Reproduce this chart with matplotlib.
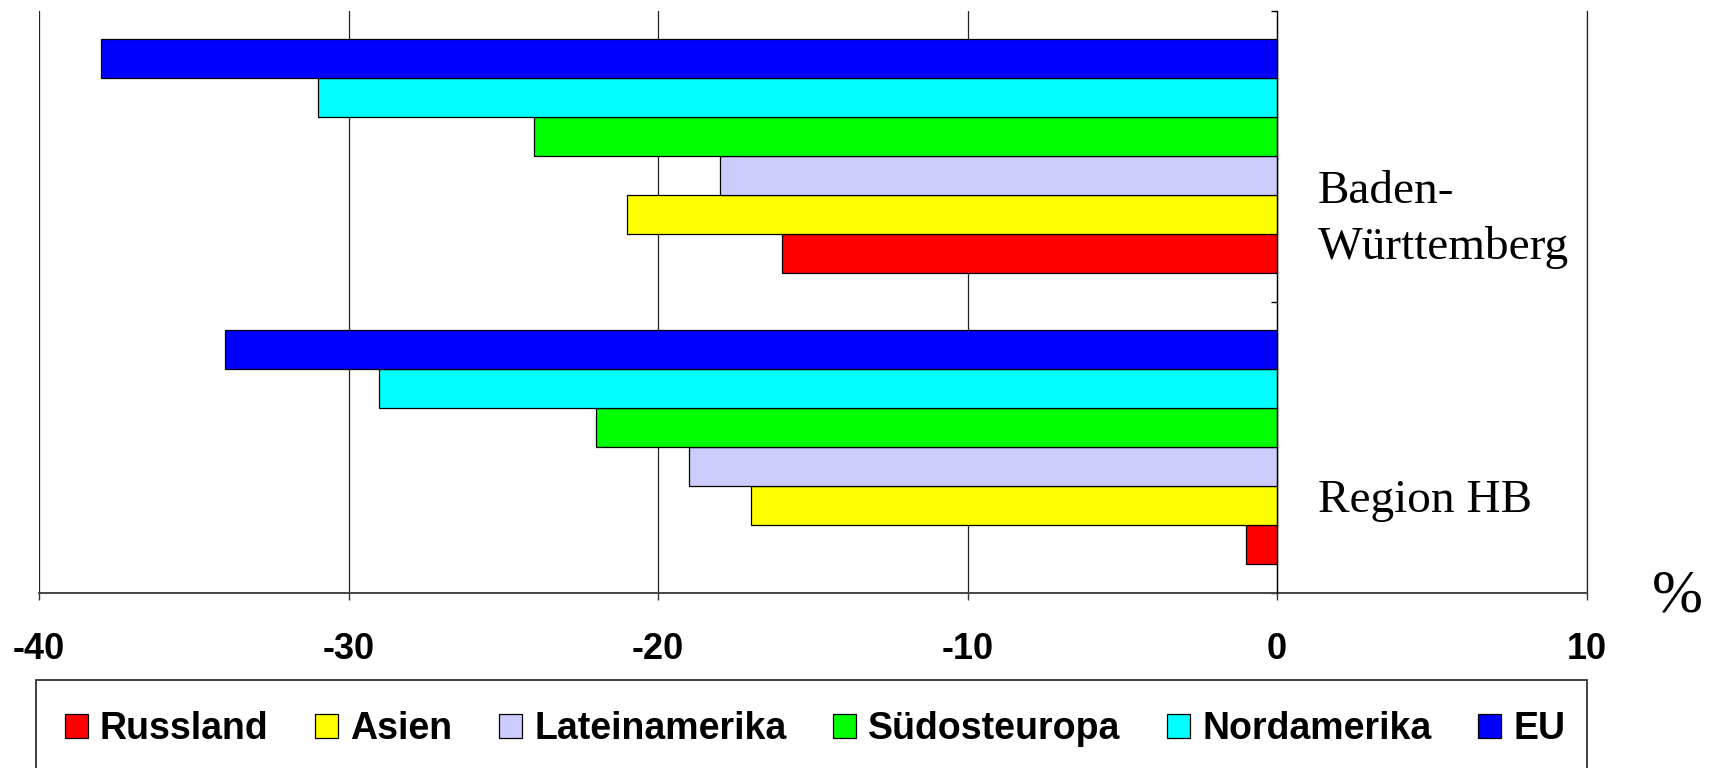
"""
Horizontal grouped bars: change in % by region of origin, BW vs Region HB.
"""

import matplotlib
matplotlib.use('Agg')
import matplotlib.pyplot as plt
from matplotlib.patches import Rectangle

# ── Data ────────────────────────────────────────────────────────────────────
categories = ['Region HB', 'Baden-\nWürttemberg']
series = ['Russland', 'Asien', 'Lateinamerika', 'Südosteuropa', 'Nordamerika', 'EU']
colors = ['#FF0000', '#FFFF00', '#CCCCFF', '#00FF00', '#00FFFF', '#0000FF']

# values per series: [Region HB, Baden-Württemberg]
russland      = [-1, -16]
asien         = [-17, -21]
lateinamerika = [-19, -18]
suedosteuropa = [-22, -24]
nordamerika   = [-29, -31]
eu            = [-34, -38]
values = [russland, asien, lateinamerika, suedosteuropa, nordamerika, eu]

xticks = [-40, -30, -20, -10, 0, 10]

SANS = 'Liberation Sans'
SERIF = 'Liberation Serif'

# ── Figure ──────────────────────────────────────────────────────────────────
fig = plt.figure(figsize=(17.12, 7.68), dpi=100)
ax = fig.add_axes([0.0228, 0.2279, 0.9039, 0.7578])

h = 0.134
for i, (name, vals, c) in enumerate(zip(series, values, colors)):
    ys = [k + (i - 2.5) * h for k in range(len(categories))]
    ax.barh(ys, vals, height=h, color=c, edgecolor='black', linewidth=0.9,
            label=name, zorder=3)

ax.set_xlim(-40, 10)
ax.set_ylim(-0.5, 1.5)

ax.set_xticks(xticks)
ax.set_xticklabels([str(t) for t in xticks], fontfamily=SANS,
                   fontweight='bold', fontsize=26)
ax.tick_params(axis='x', direction='out', length=5, width=1, pad=23,
               color='#333333')
ax.grid(axis='x', color='#222222', linewidth=0.9, zorder=1)
ax.grid(axis='y', visible=False)

# y axis sits at 0 with small ticks between categories
ax.spines['left'].set_position(('data', 0))
ax.spines['left'].set_linewidth(0.9)
ax.spines['left'].set_zorder(4)
ax.set_yticks([-0.5, 0.5, 1.5])
ax.set_yticklabels([])
ax.tick_params(axis='y', direction='out', length=4, width=1)
ax.spines['top'].set_visible(False)
ax.spines['right'].set_color('#222222')
ax.spines['right'].set_linewidth(0.9)
ax.spines['bottom'].set_color('#444444')
ax.spines['bottom'].set_linewidth(1.4)

# category labels inside the plot, right of zero
ax.text(1.32, 0.648, categories[1], fontfamily=SERIF, fontsize=34,
        ha='left', va='baseline', linespacing=1.4)
ax.text(1.32, -0.222, categories[0], fontfamily=SERIF, fontsize=34,
        ha='left', va='baseline')

fig.text(1677 / 1712, 1 - 597 / 768, '%', fontfamily=SERIF, fontsize=44,
         ha='center', va='center')

# legend with its own frame running off the bottom edge
leg = fig.legend(loc='center', bbox_to_anchor=(815 / 1712, 1 - 729 / 768),
                 ncol=6, frameon=False,
                 prop={'family': SANS, 'weight': 'bold', 'size': 27},
                 handlelength=0.62, handleheight=0.62, handletextpad=0.32,
                 columnspacing=1.24, borderpad=0)
fig.add_artist(Rectangle((36 / 1712, -0.05), (1587 - 36) / 1712,
                         1 - 680 / 768 + 0.05, transform=fig.transFigure,
                         fill=False, edgecolor='#333333', linewidth=1.3))

fig.savefig('out.png', dpi=100, facecolor='white')
